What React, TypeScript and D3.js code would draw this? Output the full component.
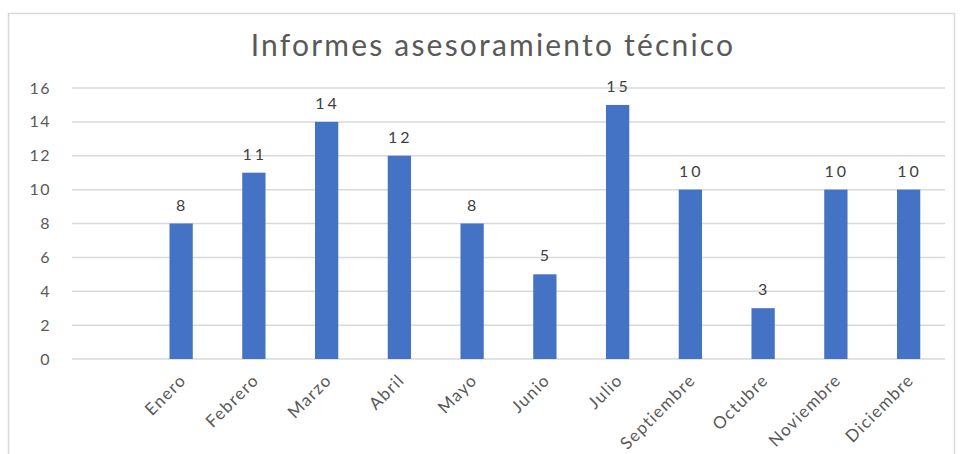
import { useEffect, useRef } from "react";
import * as d3 from "d3";

const title = "Informes asesoramiento técnico";
const months = ["", "Enero", "Febrero", "Marzo", "Abril", "Mayo", "Junio", "Julio", "Septiembre", "Octubre", "Noviembre", "Diciembre"];
const values = [null, 8, 11, 14, 12, 8, 5, 15, 10, 3, 10, 10];
const yTicks = [0, 2, 4, 6, 8, 10, 12, 14, 16];

const App = () => {
    const chartRef = useRef<SVGSVGElement>(null);

    useEffect(() => {
        document.body.style.margin = "0";
        const svg = d3.select(chartRef.current);
        svg.selectAll("*").remove();

        const width = 961;
        const height = 454;
        const margin = { top: 88, right: 16, bottom: 95, left: 72 };
        const font = "'Lato', 'Open Sans', sans-serif";

        svg.attr("width", width).attr("height", height).style("background", "#fff");

        // chart frame
        svg.append("rect")
            .attr("x", 8.5).attr("y", 13.5)
            .attr("width", 946).attr("height", 460)
            .attr("fill", "none").attr("stroke", "#d9d9d9").attr("stroke-width", 1.5);

        const x = d3.scaleBand<string>()
            .domain(months.map((m, i) => m || `blank${i}`))
            .range([margin.left, width - margin.right])
            .paddingInner(0.68).paddingOuter(0.34);

        const y = d3.scaleLinear()
            .domain([0, 16])
            .range([height - margin.bottom, margin.top]);

        // gridlines
        svg.append("g")
            .selectAll("line")
            .data(yTicks)
            .join("line")
            .attr("x1", margin.left).attr("x2", width - margin.right)
            .attr("y1", (d) => y(d)).attr("y2", (d) => y(d))
            .attr("stroke", "#d9d9d9").attr("stroke-width", 1.5);

        // y labels
        svg.append("g")
            .selectAll("text")
            .data(yTicks)
            .join("text")
            .attr("x", 51).attr("y", (d) => y(d))
            .attr("dy", "0.35em")
            .attr("text-anchor", "end")
            .attr("font-family", font).attr("font-size", 16)
            .attr("letter-spacing", 1.5)
            .attr("fill", "#595959")
            .text((d) => d);

        const data = months.map((m, i) => ({ key: m || `blank${i}`, label: m, value: values[i] }))
            .filter((d) => d.value !== null) as { key: string; label: string; value: number }[];

        // bars
        svg.append("g")
            .selectAll("rect")
            .data(data)
            .join("rect")
            .attr("x", (d) => x(d.key)!)
            .attr("y", (d) => y(d.value))
            .attr("width", x.bandwidth())
            .attr("height", (d) => y(0) - y(d.value))
            .attr("fill", "#4472c4");

        // data labels
        svg.append("g")
            .selectAll("text")
            .data(data)
            .join("text")
            .attr("x", (d) => x(d.key)! + x.bandwidth() / 2 + 1)
            .attr("y", (d) => y(d.value) - 13)
            .attr("text-anchor", "middle")
            .attr("font-family", font).attr("font-size", 16)
            .attr("letter-spacing", 3)
            .attr("fill", "#404040")
            .text((d) => d.value);

        // x labels
        svg.append("g")
            .selectAll("text")
            .data(data)
            .join("text")
            .attr("transform", (d) => `translate(${x(d.key)! + x.bandwidth() / 2 + 2},${y(0) + 18}) rotate(-45)`)
            .attr("text-anchor", "end")
            .attr("dy", "0.35em")
            .attr("font-family", font).attr("font-size", 17)
            .attr("letter-spacing", 1.3)
            .attr("fill", "#595959")
            .text((d) => d.label);

        // title
        svg.append("text")
            .attr("x", 493).attr("y", 56)
            .attr("text-anchor", "middle")
            .attr("font-family", font).attr("font-size", 30)
            .attr("letter-spacing", 2.2)
            .attr("fill", "#595959")
            .text(title);
    }, []);

    return <svg ref={chartRef}></svg>;
};

export default App;
